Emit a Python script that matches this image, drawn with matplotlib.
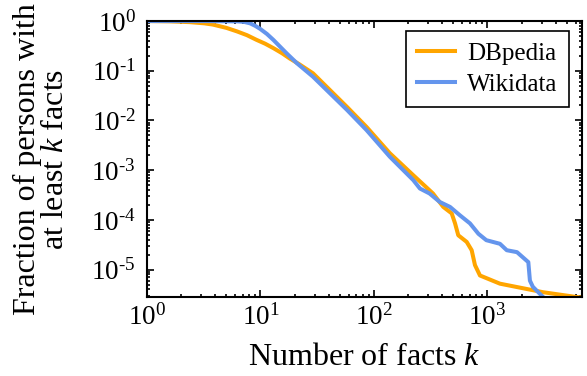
import matplotlib
matplotlib.use("Agg")
import matplotlib.pyplot as plt
from matplotlib.ticker import FuncFormatter, LogLocator, NullFormatter
import numpy as np

plt.rcParams['font.family'] = ['Liberation Serif', 'DejaVu Serif']
plt.rcParams['mathtext.fontset'] = 'custom'
plt.rcParams['mathtext.rm'] = 'Liberation Serif'
plt.rcParams['mathtext.it'] = 'Liberation Serif:italic'
plt.rcParams['mathtext.bf'] = 'Liberation Serif:bold'

# DBpedia: fraction of persons with at least k facts
dbpedia_k = [1, 1.6, 2.4, 3.2, 3.8, 5.0, 6.2, 7.6, 9.2, 11, 13, 15.5, 18, 22, 29, 58,
             86, 138, 222, 331, 408, 484, 518, 553, 656, 726, 776, 859, 1288, 2065,
             3090, 6110, 6760]
dbpedia_frac = [1, 0.985, 0.95, 0.9, 0.85, 0.73, 0.62, 0.52, 0.42, 0.35, 0.285, 0.225,
                0.178, 0.135, 0.089, 0.0186, 0.0074, 0.00219, 0.00079, 0.00034,
                0.000182, 0.000135, 8.5e-5, 4.9e-5, 3.6e-5, 2.45e-5, 1.23e-5, 7.6e-6,
                5.2e-6, 4.2e-6, 3.5e-6, 2.8e-6, 2.75e-6]

# Wikidata
wikidata_k = [1, 3.2, 6.3, 7.2, 8.1, 9.0, 9.9, 11.4, 13, 17, 21, 29, 58, 86, 138, 222,
              254, 309, 380, 468, 573, 701, 832, 977, 1288, 1479, 1820, 2291, 2366,
              2512, 3090, 3311]
wikidata_frac = [1, 1, 0.985, 0.96, 0.9, 0.8, 0.7, 0.55, 0.417, 0.224, 0.141, 0.076,
                 0.0162, 0.0064, 0.00186, 0.00063, 0.000427, 0.000339, 0.000229,
                 0.000182, 0.000123, 8.5e-5, 5.25e-5, 3.9e-5, 3.3e-5, 2.45e-5,
                 2.24e-5, 1.41e-5, 6.0e-6, 4.5e-6, 2.8e-6, 2.4e-6]

series_names = ['DBpedia', 'Wikidata']
series_colors = ['#FFA500', '#6495ED']

fig = plt.figure(figsize=(5.87, 3.76), dpi=100)
ax = fig.add_axes([0.2504, 0.21, 0.741, 0.734])

ax.plot(dbpedia_k, dbpedia_frac, color=series_colors[0], lw=2.9, label=series_names[0])
ax.plot(wikidata_k, wikidata_frac, color=series_colors[1], lw=2.9, label=series_names[1])

ax.set_xscale('log')
ax.set_yscale('log')
ax.set_xlim(1, 6800)
ax.set_ylim(2.8e-6, 1.0)

def fmt(v, pos):
    e = int(round(np.log10(v)))
    if e < 0:
        return r'$10^{\text{-%d}}$' % (-e)
    return r'$10^{%d}$' % e

ax.xaxis.set_major_locator(LogLocator(base=10, numticks=20))
ax.yaxis.set_major_locator(LogLocator(base=10, numticks=20))
ax.xaxis.set_major_formatter(FuncFormatter(fmt))
ax.yaxis.set_major_formatter(FuncFormatter(fmt))
ax.xaxis.set_minor_locator(LogLocator(base=10, subs=np.arange(2, 10), numticks=20))
ax.yaxis.set_minor_locator(LogLocator(base=10, subs=np.arange(2, 10), numticks=20))
ax.xaxis.set_minor_formatter(NullFormatter())
ax.yaxis.set_minor_formatter(NullFormatter())

ax.tick_params(which='both', direction='in', top=True, right=True, labelsize=19.5, width=1.2)
ax.tick_params(axis='x', which='both', pad=5)
ax.tick_params(axis='y', which='both', pad=8)
ax.tick_params(which='major', length=5)
ax.tick_params(which='minor', length=2.5)
for s in ax.spines.values():
    s.set_linewidth(1.5)

ax.set_xlabel(r'Number of facts $k$', fontsize=23, labelpad=9)
ax.set_ylabel('Fraction of persons with\nat least $k$ facts', fontsize=23, labelpad=15, linespacing=0.95)

leg = ax.legend(loc='upper right', fontsize=18, fancybox=False, framealpha=1,
                edgecolor='black', borderpad=0.45, handlelength=1.5, handletextpad=0.5,
                labelspacing=0.35, borderaxespad=0, bbox_to_anchor=(0.970, 0.964))
leg.get_frame().set_linewidth(1.2)

fig.savefig('out.png', dpi=100)
